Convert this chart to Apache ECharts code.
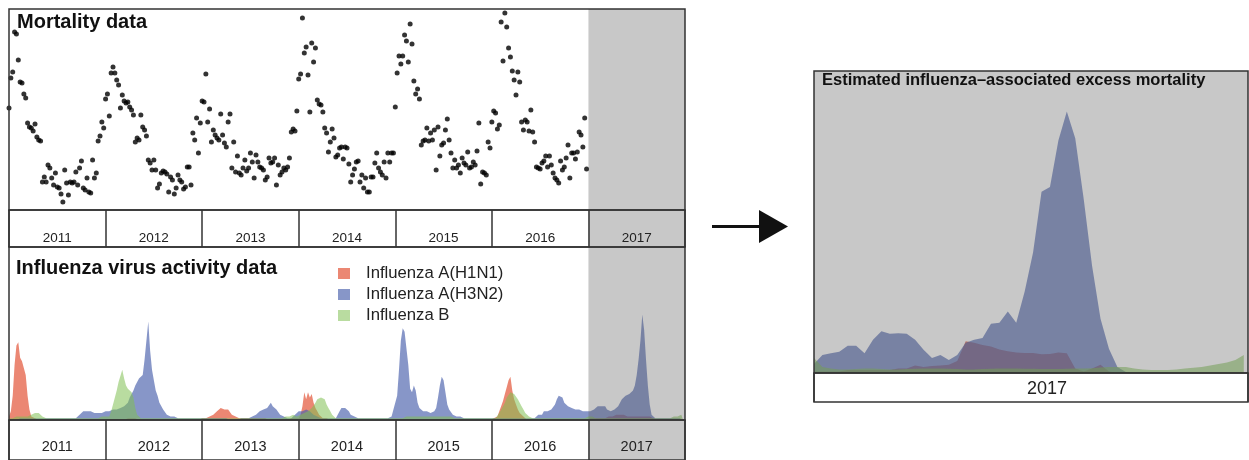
<!DOCTYPE html>
<html>
<head>
<meta charset="utf-8">
<script src="https://cdn.jsdelivr.net/npm/echarts@6/dist/echarts.min.js"></script>
<style>
  html, body { margin: 0; padding: 0; background: #fff; }
  #chart { width: 1249px; height: 460px; }
</style>
</head>
<body>
<div id="chart"></div>
<script>
const years = ['2011', '2012', '2013', '2014', '2015', '2016', '2017']
const shadedYear = '2017'
const seriesNames = ['Influenza A(H1N1)', 'Influenza A(H3N2)', 'Influenza B']

// weekly mortality (relative units), one value per week
const mort2011 = [102,132,138,178,176,150,128,127,116,112,87,83,82,79,86,73,70,69,28,33,28,45,42,32,25,37,23,22,16,8,40,27,15,28,27,28,38,25,42,49,22,20,32,18,17,50,32,37,69,74,88,82]
const mort2012 = [111,116,94,137,143,137,130,125,102,115,109,107,108,103,100,95,68,72,70,95,83,80,74,50,47,40,50,40,22,26,37,39,38,36,18,33,30,16,22,35,30,28,21,23,43,43,25,77,70,92,57,87]
const mort2013 = [109,108,136,88,101,68,80,75,72,70,96,75,67,63,88,96,42,68,38,54,37,35,42,50,39,42,57,48,32,55,48,43,42,40,30,33,52,47,48,52,25,45,35,38,42,40,43,52,78,81,79,99]
const mort2014 = [131,136,192,157,163,135,98,167,148,162,110,106,105,98,82,77,58,68,81,72,53,55,62,63,51,63,62,46,28,35,41,48,49,28,35,22,32,18,18,33,33,47,57,42,38,35,48,32,57,48,57,57]
const mort2015 = [103,137,154,146,154,175,169,148,186,166,129,116,121,111,65,69,70,82,69,77,70,80,40,83,54,65,67,80,91,70,57,42,50,42,45,37,52,47,45,58,42,43,48,45,59,87,26,38,37,35,68,62]
const mort2016 = [88,99,97,81,85,188,149,197,183,162,153,139,130,115,138,128,88,80,90,88,79,100,78,68,43,42,41,47,49,54,43,54,45,37,32,30,27,49,40,43,52,65,32,57,57,51,58,78,75,63,92,41]

// weekly virus activity (% positive)
const h1n1_2011 = [2,5,14,32,43,45,36,34,35,26, 14,6,2,1,1,1,0,0,0,0, 0,0,0,0,0,0,0,0,0,0, 0,0,0,0,0,0,0,0,0,0, 0,0,0,0,0,0,0,0,0,0, 0,0]
const h1n1_2012 = [0,0,0,0,0,0,0,0,0,0, 0,1,1,1,1,1,1,0,0,0, 0,0,0,0,0,0,0,0,0,0, 0,0,0,0,0,0,0,0,0,0, 0,0,0,0,0,0,0,0,0,0, 0,0]
const h1n1_2013 = [1,1,1,2,2,3,3,4,5,6, 7,7,6,7,6,5,3,2,2,1, 1,1,1,1,1,1,1,1,1,1, 1,1,1,1,1,1,0,0,0,0, 0,0,0,0,0,0,0,0,1,1, 1,1]
const h1n1_2014 = [1,3,8,16,12,16,13,15,10,7, 5,3,2,1,1,1,0,0,0,0, 0,0,0,0,0,0,0,0,0,0, 0,0,0,0,0,0,0,0,0,0, 0,0,0,0,0,0,0,0,0,0, 0,0]
const h1n1_2015 = [0,0,0,0,0,0,0,0,0,0, 0,0,0,0,0,0,0,0,0,0, 0,0,0,0,0,0,0,0,0,0, 0,0,0,0,0,0,0,0,0,0, 0,0,0,0,0,0,0,0,0,0, 0,0]
const h1n1_2016 = [0,1,1,2,5,8,11,15,19,23, 25,17,12,9,6,4,3,2,1,0, 0,0,0,0,0,0,0,0,0,0, 0,0,0,0,0,0,0,0,0,0, 0,0,0,0,0,0,0,0,0,0, 0,0]
const h1n1_2017 = [1,1,1,1,1,1,1,1,1,1, 1,2,2,2,2,3,3,3,3,3, 2,2,2,2,2,2,2,2,2,2, 2,2,2,2,1,1,1,0,0,0, 0,0,0,0,0,0,0,0,0,0, 0,0]

const h3n2_2011 = [0,0,0,0,0,1,1,1,1,1, 1,1,1,1,1,1,1,1,1,1, 1,1,1,1,1,1,1,1,1,1, 1,1,1,1,1,1,1,2,3,4, 5,6,5,6,5,5,4,4,4,3, 4,4]
const h3n2_2012 = [5,5,5,5,6,5,6,7,7,7, 8,9,10,13,14,17,20,22,24,23, 26,35,46,57,40,29,23,17,14,10, 9,6,5,3,3,2,2,2,1,1, 1,1,1,1,1,1,1,1,1,1, 1,1]
const h3n2_2013 = [1,1,1,1,1,1,1,1,1,1, 1,1,1,1,0,0,0,0,0,0, 1,1,1,1,1,1,1,2,2,3, 4,5,6,6,6,7,8,10,8,9, 6,5,3,2,2,1,1,1,1,2, 3,4]
const h3n2_2014 = [5,5,5,6,6,5,5,4,3,2, 2,1,1,1,1,1,1,1,1,1, 1,2,5,7,8,7,6,5,3,2, 2,1,1,1,1,1,1,1,1,1, 1,1,1,1,1,1,1,1,1,1, 2,6]
const h3n2_2015 = [6,14,29,46,53,51,52,32,18,16, 20,17,10,7,6,5,5,5,4,4, 4,5,7,13,20,25,23,16,9,6, 5,3,3,2,2,2,1,1,1,1, 1,1,1,1,1,1,1,1,1,1, 1,1]
const h3n2_2016 = [1,1,1,1,1,1,1,1,1,1, 1,1,1,1,1,1,1,1,1,1, 1,1,1,1,2,3,4,3,5,4, 5,5,6,7,9,12,14,15,13,10, 9,8,8,7,7,6,7,6,6,5, 5,5]
const h3n2_2017 = [5,5,6,6,7,8,9,8,9,8, 6,5,5,5,6,7,8,10,12,13, 14,14,15,16,17,20,26,35,46,61, 52,35,20,9,3,2,1,1,1,1, 1,1,1,1,1,1,1,1,1,1, 1,1]

const fluB_2011 = [1,1,1,2,2,2,2,2,2,2, 2,2,3,3,4,3,4,3,2,1, 1,1,1,1,1,1,1,1,1,1, 1,1,1,1,1,1,1,1,1,1, 1,1,1,1,1,1,1,1,1,2, 2,2]
const fluB_2012 = [2,2,2,5,9,13,17,22,23,29, 24,20,18,17,16,13,7,3,2,1, 1,1,1,1,1,1,1,1,1,1, 1,1,1,1,1,1,1,1,1,1, 1,1,1,1,1,1,1,1,1,1, 1,1]
const fluB_2013 = [1,1,1,1,1,1,1,1,1,1, 1,1,1,1,1,1,1,1,1,1, 1,1,1,1,1,1,1,1,1,1, 1,1,1,1,1,1,1,1,1,1, 1,1,1,1,1,2,2,2,3,3, 3,2]
const fluB_2014 = [2,3,3,4,5,5,6,7,8,10, 12,13,13,13,12,9,7,5,3,2, 1,1,1,1,1,1,1,1,1,1, 1,1,1,1,1,1,1,1,1,1, 1,1,1,1,1,1,1,1,1,1, 1,1]
const fluB_2015 = [1,1,1,1,1,1,2,2,2,2, 2,2,2,2,2,2,2,2,2,2, 2,2,2,2,2,2,2,2,2,2, 2,1,1,1,1,1,1,1,1,1, 1,1,1,1,1,1,1,1,1,1, 1,1]
const fluB_2016 = [1,1,1,2,4,6,8,10,13,14, 16,16,15,14,12,10,8,6,4,3, 2,1,1,1,1,1,1,1,1,1, 1,1,1,1,1,1,1,1,1,1, 1,1,1,1,1,1,1,1,1,1, 1,1]
const fluB_2017 = [2,2,2,2,1,1,1,1,1,1, 1,1,1,1,1,1,1,1,1,1, 1,1,1,1,1,1,1,1,1,1, 1,1,1,1,1,1,1,1,1,1, 1,1,1,1,1,1,2,2,2,2, 3,3]

// estimated excess deaths in 2017, by week
const excessH3N2 = [3,6,6.5,7,9,9,6.5,11,13.8,13, 13.2,13,11,7.7,5,6,4.3,6,10,11, 11.6,16.3,16.6,20.4,16.6,27,40,60,61.6,77, 86.6,77.7,57.7,35.4,18,8,2,0.3,0,0, 0,0,0,0,0,0,0,0,0,0, 0,0]
const excessH1N1 = [0.5,0.5,0.5,0.5,1,1,1,1,1,1, 1.5,1.5,2.5,2,2.3,2.5,2.7,4,10.5,10, 9.3,8.8,7.8,7.2,6.8,6.6,6.6,6.2,6.3,6.8, 6.5,1.5,0.5,1.5,2.7,0.5,0,0,0,0, 0,0,0,0,0,0,0,0,0,0, 0,0]
const excessB = [5,2,1.5,1.2,1.2,1.3,1.5,1.5,1.3,1.2, 1.2,1.3,1.4,1.5,1.5,1.5,1.4,1.3,1.2,1.2, 1.3,1.4,1.5,1.5,1.5,1.4,1.4,1.3,1.3,1.3, 1.4,1.5,1.5,1.6,1.8,2,2,2,1.5,1.2, 1,1,1,1.2,1.5,1.7,2,2.5,3,3.5, 4.3,6]

const FONT = '"Liberation Sans", Arial, Helvetica, sans-serif'
const BORDER = '#333'
const GRAY = '#c8c8c8'
// the shaded period is a translucent dark veil laid over the marks
const VEIL = 'rgba(90, 90, 90, 0.333)'
const RED = 'rgba(225, 71, 40, 0.65)'
const BLUE = 'rgba(76, 98, 173, 0.67)'
const GREEN = 'rgba(127, 191, 82, 0.55)'

const WEEKS = 52
const totalWeeks = years.length * WEEKS
const shadeStart = years.indexOf(shadedYear) * WEEKS
const excessMax = 51.5

const weekly = list => [].concat(...list).map((v, i) => [i, v])
const mortality = weekly([mort2011, mort2012, mort2013, mort2014, mort2015, mort2016])
const h1n1 = weekly([h1n1_2011, h1n1_2012, h1n1_2013, h1n1_2014, h1n1_2015, h1n1_2016, h1n1_2017])
const h3n2 = weekly([h3n2_2011, h3n2_2012, h3n2_2013, h3n2_2014, h3n2_2015, h3n2_2016, h3n2_2017])
const fluB = weekly([fluB_2011, fluB_2012, fluB_2013, fluB_2014, fluB_2015, fluB_2016, fluB_2017])

const veil = (from, to) => ({
  silent: true, z: 5,
  itemStyle: { color: VEIL },
  label: { show: false },
  data: [[{ xAxis: from }, { xAxis: to }]]
})

const frame = (left, top, width, height) => ({
  left, top, width, height, show: true, z: 10,
  borderColor: BORDER, borderWidth: 1.5, backgroundColor: 'transparent'
})

const yearAxis = (gridIndex, data, fontSize, margin, extra) => ({
  gridIndex, type: 'category', data, boundaryGap: true, z: 10,
  axisLine: { show: false }, axisTick: { show: false },
  splitLine: { show: true, lineStyle: { color: BORDER, width: 1.5 } },
  axisLabel: Object.assign({ color: '#222', fontSize, fontFamily: FONT, margin, verticalAlign: 'middle' }, extra || {})
})

const areaSeries = (name, color, data, xi, extra) => Object.assign({
  name, type: 'line', xAxisIndex: xi, yAxisIndex: xi, data,
  showSymbol: false, smooth: false, silent: true,
  itemStyle: { color }, lineStyle: { width: 0 },
  areaStyle: { color, opacity: 1 }
}, extra || {})

const titleStyle = size => ({ fontSize: size, fontWeight: 'bold', color: '#111', fontFamily: FONT })

const chart = echarts.init(document.getElementById('chart'), null, { renderer: 'canvas' })
chart.setOption({
  animation: false,
  textStyle: { fontFamily: FONT },
  title: [
    { text: 'Mortality data', left: 17, top: 12, padding: 0, textStyle: titleStyle(20) },
    { text: 'Influenza virus activity data', left: 16, top: 258, padding: 0, textStyle: titleStyle(20) },
    { text: 'Estimated influenza\u2013associated excess mortality', left: 822, top: 72, padding: 0, textStyle: titleStyle(16.5) }
  ],
  legend: {
    data: seriesNames, orient: 'vertical', left: 338, top: 265, padding: 0,
    icon: 'rect', itemWidth: 12, itemHeight: 11, itemGap: 4,
    selectedMode: false,
    textStyle: { fontSize: 16.7, color: '#222', fontFamily: FONT, lineHeight: 16, padding: [0, 0, 0, 11] }
  },
  grid: [
    frame(9, 9, 676, 201),
    frame(9, 210, 676, 37),
    frame(9, 247, 676, 173),
    frame(9, 420, 676, 42),
    frame(814, 71, 434, 302),
    frame(814, 373, 434, 29)
  ],
  xAxis: [
    { gridIndex: 0, type: 'value', min: 0, max: totalWeeks, show: false },
    yearAxis(1, years, 13.5, -9),
    { gridIndex: 2, type: 'value', min: 0, max: totalWeeks, show: false },
    yearAxis(3, years, 14.5, -13),
    { gridIndex: 4, type: 'value', min: 0, max: excessMax, show: false },
    yearAxis(5, [shadedYear], 18, -13, { padding: [0, 0, 0, 32] })
  ],
  yAxis: [
    { gridIndex: 0, type: 'value', min: 0, max: 201, show: false },
    { gridIndex: 1, type: 'value', min: 0, max: 1, show: false },
    { gridIndex: 2, type: 'value', min: 0, max: 100, show: false },
    { gridIndex: 3, type: 'value', min: 0, max: 1, show: false },
    { gridIndex: 4, type: 'value', min: 0, max: 100, show: false },
    { gridIndex: 5, type: 'value', min: 0, max: 1, show: false }
  ],
  series: [
    {
      type: 'scatter', xAxisIndex: 0, yAxisIndex: 0, data: mortality,
      symbolSize: 5, silent: true,
      itemStyle: { color: '#000' },
      markArea: veil(shadeStart, totalWeeks)
    },
    {
      type: 'bar', xAxisIndex: 1, yAxisIndex: 1, silent: true, barWidth: '100%',
      data: years.map(y => (y === shadedYear ? 1 : '-')),
      itemStyle: { color: GRAY }
    },
    areaSeries(seriesNames[0], RED, h1n1, 2),
    areaSeries(seriesNames[1], BLUE, h3n2, 2, { markArea: veil(shadeStart, totalWeeks) }),
    areaSeries(seriesNames[2], GREEN, fluB, 2),
    {
      type: 'bar', xAxisIndex: 3, yAxisIndex: 3, silent: true, barWidth: '100%',
      data: years.map(y => (y === shadedYear ? 1 : '-')),
      itemStyle: { color: GRAY }
    },
    areaSeries(seriesNames[0], RED, excessH1N1.map((v, i) => [i, v]), 4),
    areaSeries(seriesNames[1], BLUE, excessH3N2.map((v, i) => [i, v]), 4,
      { markArea: veil(0, excessMax) }),
    areaSeries(seriesNames[2], GREEN, excessB.map((v, i) => [i, v]), 4)
  ],
  graphic: [
    { type: 'line', shape: { x1: 712, y1: 226.5, x2: 762, y2: 226.5 }, style: { stroke: '#111', lineWidth: 3 } },
    { type: 'polygon', shape: { points: [[759, 210], [788, 226.5], [759, 243]] }, style: { fill: '#111' } }
  ]
})

window.addEventListener('resize', () => chart.resize())
</script>
</body>
</html>
